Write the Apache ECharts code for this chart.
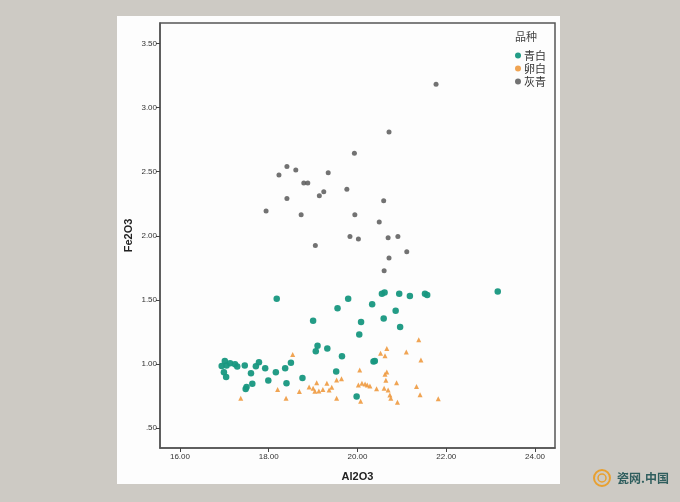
<!DOCTYPE html>
<html><head><meta charset="utf-8">
<script src="https://cdn.jsdelivr.net/npm/echarts@6/dist/echarts.min.js"></script>
<style>html,body{margin:0;padding:0;background:#cdcac4;}#c{width:680px;height:502px;}</style>
</head><body><div id="c"></div>
<script>
const seriesNames = ['青白', '卵白', '灰青'];
const xTicks = [16, 18, 20, 22, 24];
const yTicks = [0.5, 1.0, 1.5, 2.0, 2.5, 3.0, 3.5];
const qingbai = [
 [16.94,0.984],[17.01,1.023],[17.05,0.987],[17.13,1.005],[17.24,0.998],[17.29,0.979],
 [16.99,0.935],[17.04,0.898],[17.46,0.987],[17.60,0.927],[17.71,0.982],[17.78,1.013],
 [17.92,0.966],[18.16,0.935],[18.37,0.966],[18.50,1.01],[17.99,0.87],[17.63,0.846],
 [17.48,0.805],[17.50,0.82],[18.40,0.849],[18.76,0.891],[18.18,1.508],[19.00,1.336],[19.55,1.435],
 [19.79,1.508],[20.33,1.466],[20.08,1.328],[20.04,1.229],[19.10,1.141],[19.06,1.099],
 [19.32,1.12],[19.65,1.06],[20.36,1.018],[19.52,0.94],[19.98,0.745],[20.55,1.547],
 [20.61,1.557],[20.94,1.547],[21.18,1.529],[21.52,1.547],[21.57,1.537],[20.86,1.414],
 [20.59,1.354],[20.96,1.289],[20.39,1.023],[23.16,1.565]
];
const luanbai = [
 [17.37,0.732],[18.20,0.80],[18.39,0.732],[18.54,1.073],[18.69,0.784],[18.91,0.82],
 [19.00,0.81],[19.04,0.787],[19.08,0.854],[19.13,0.789],[19.22,0.80],[19.31,0.849],[19.36,0.797],
 [19.42,0.818],[19.53,0.875],[19.64,0.885],[19.53,0.732],[20.05,0.953],[20.02,0.836],
 [20.10,0.85],[20.17,0.844],[20.22,0.835],[20.28,0.828],[20.07,0.709],[20.43,0.807],[20.60,0.81],
 [20.69,0.797],[20.73,0.758],[20.75,0.732],[20.90,0.70],[20.66,1.12],[20.52,1.084],
 [20.62,1.063],[21.10,1.094],[21.38,1.188],[21.43,1.031],[20.66,0.937],[20.62,0.92],
 [20.64,0.873],[20.88,0.854],[21.33,0.823],[21.41,0.76],[21.82,0.729]
];
const huiqing = [
 [19.93,2.643],[18.41,2.541],[18.61,2.513],[18.23,2.474],[19.34,2.492],[18.79,2.412],
 [18.88,2.412],[19.76,2.362],[19.24,2.344],[19.14,2.313],[18.41,2.291],[20.59,2.273],
 [17.94,2.193],[18.73,2.164],[19.94,2.164],[20.49,2.107],[19.83,1.995],[20.02,1.974],
 [20.69,1.984],[20.91,1.995],[19.05,1.924],[21.11,1.875],[20.71,1.826],[20.60,1.727],
 [20.71,2.81],[21.77,3.182]
];
const colors = ['#17977f', '#ee9a40', '#4f4f4f'];
const chart = echarts.init(document.getElementById('c'));
const yFmt = v => { const s = v.toFixed(2); return v < 1 ? s.replace(/^0/, '') : s; };
chart.setOption({
  backgroundColor: '#cdcac4',
  animation: false,
  graphic: [
    {type:'rect', z:-10, shape:{x:117,y:16,width:443,height:468}, style:{fill:'#fdfdfd'}},
    {type:'text', left:515, top:31, style:{text:'品种', font:'11px "Noto Sans CJK SC"', fill:'#444'}},
    {type:'circle', shape:{cx:602,cy:478,r:8}, style:{fill:'none', stroke:'#e8a030', lineWidth:2}},
    {type:'circle', shape:{cx:602,cy:478,r:4}, style:{fill:'none', stroke:'#e8a030', lineWidth:1.5}},
    {type:'text', left:617, top:472, style:{text:'瓷网.中国', font:'bold 12px "Noto Sans CJK SC"', fill:'#2f5e5e'}}
  ],
  legend: {
    orient:'vertical', left:510, top:45, itemWidth:6, itemHeight:6, itemGap:2,
    textStyle:{fontSize:11, color:'#333', fontFamily:'"Noto Sans CJK SC"', padding:[0,0,0,-2]},
    data: seriesNames.map(n => ({name:n, icon:'circle'}))
  },
  grid: {left:160, top:23, right:125, bottom:54, show:true, borderColor:'#555', borderWidth:1.5, backgroundColor:'transparent'},
  xAxis: {
    type:'value', min:15.55, max:24.45,
    name:'Al2O3', nameLocation:'middle', nameGap:23,
    nameTextStyle:{fontSize:11, fontWeight:'bold', color:'#222', fontFamily:'Liberation Sans'},
    axisLine:{show:true, lineStyle:{color:'#555', width:1.5}},
    axisTick:{show:true, length:4, lineStyle:{color:'#444'}, customValues:xTicks},
    axisLabel:{customValues:xTicks, formatter:v=>v.toFixed(2), fontSize:8, color:'#333', margin:5, fontFamily:'Liberation Sans'},
    splitLine:{show:false}
  },
  yAxis: {
    type:'value', min:0.344, max:3.66,
    name:'Fe2O3', nameLocation:'middle', nameGap:26, nameRotate:90, nameMoveOverlap:false,
    nameTextStyle:{fontSize:11, fontWeight:'bold', color:'#222', fontFamily:'Liberation Sans'},
    axisLine:{show:true, lineStyle:{color:'#555', width:1.5}},
    axisTick:{show:true, length:4, lineStyle:{color:'#444'}, customValues:yTicks},
    axisLabel:{customValues:yTicks, formatter:yFmt, fontSize:8, color:'#333', margin:3, fontFamily:'Liberation Sans'},
    splitLine:{show:false}
  },
  series: [
    {name:seriesNames[0], type:'scatter', data:qingbai, symbol:'circle', symbolSize:6.5, itemStyle:{color:colors[0], opacity:0.95}},
    {name:seriesNames[1], type:'scatter', data:luanbai, symbol:'triangle', symbolSize:5, itemStyle:{color:colors[1], opacity:0.9}},
    {name:seriesNames[2], type:'scatter', data:huiqing, symbol:'circle', symbolSize:5, itemStyle:{color:colors[2]}}
  ]
});
</script></body></html>
